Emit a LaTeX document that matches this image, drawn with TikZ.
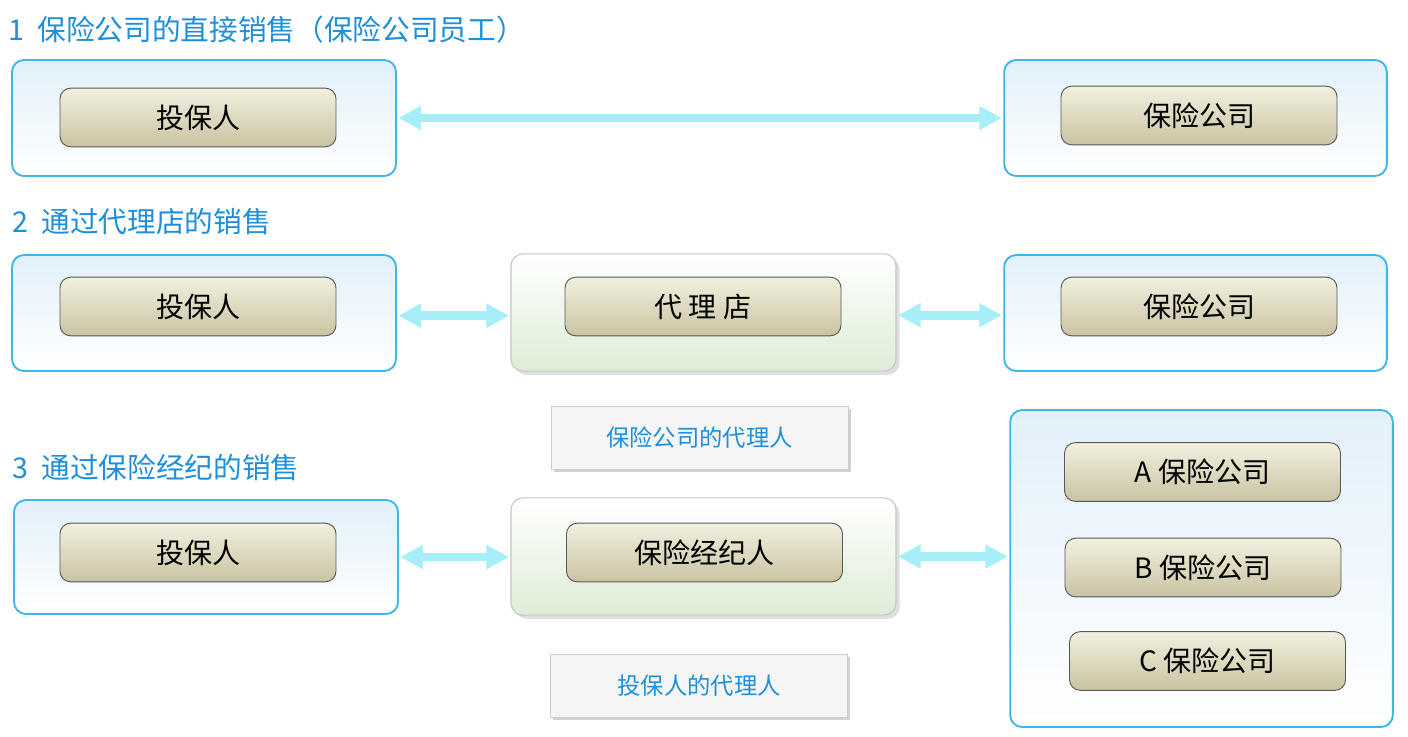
\documentclass[tikz,border=0pt]{standalone}
\usepackage{fontspec}
\setmainfont{Noto Sans CJK SC}
\usetikzlibrary{arrows.meta,shadows}
\definecolor{tblue}{HTML}{1E8FD8}
\definecolor{obord}{HTML}{3DB6EA}
\definecolor{acol}{HTML}{A6EEF8}
\definecolor{otop}{HTML}{E2F0FA}
\definecolor{mbot}{HTML}{DDEDD6}
\definecolor{itop}{HTML}{F2F0DF}
\definecolor{ibot}{HTML}{C9C3A2}
\begin{document}
\begin{tikzpicture}[x=0.75pt,y=-0.75pt,
 outer/.style={draw=obord,line width=1.4pt,rounded corners=9pt,top color=otop,bottom color=white,minimum width=#1},
 mid/.style={draw=gray!45,line width=0.8pt,rounded corners=9pt,top color=white,bottom color=mbot,drop shadow={opacity=0.25},minimum width=288.75pt,minimum height=88pt},
 inner/.style={draw=gray!70!black,line width=0.7pt,rounded corners=8pt,top color=itop,bottom color=ibot,minimum width=207pt,minimum height=44pt,font=\fontsize{21}{25}\selectfont},
 lab/.style={draw=gray!40,fill=green!5!gray!8,drop shadow={opacity=0.35,shadow xshift=2pt,shadow yshift=-2pt},minimum width=223pt,minimum height=47pt,text=tblue,font=\fontsize{17.5}{20}\selectfont},
 title/.style={anchor=west,text=tblue,font=\fontsize{21.5}{25}\selectfont},
 arr/.style={draw=acol,line width=6.5pt,{Triangle[length=17pt,width=17pt]}-{Triangle[length=17pt,width=17pt]},shorten <=1pt,shorten >=1pt}]
\useasboundingbox[fill=white] (0,0) rectangle (1408,736);
\node[title] (t1) at (4,30) {1\ \ 保险公司的直接销售（保险公司员工）};
\node[title] (t2) at (8,222) {2\ \ 通过代理店的销售};
\node[title] (t3) at (8,468) {3\ \ 通过保险经纪的销售};
% row 1
\node[outer=288pt,minimum height=87pt] (L1o) at (204,118) {};
\node[inner] (L1i) at (198,117.5) {投保人};
\node[outer=287pt,minimum height=87pt] (R1o) at (1195.5,118) {};
\node[inner] (R1i) at (1199,115.5) {保险公司};
\draw[arr] (L1o.east) -- (R1o.west);
% row 2
\node[outer=288pt,minimum height=87pt] (L2o) at (204,313) {};
\node[inner] (L2i) at (198,306.5) {投保人};
\node[mid] (M2o) at (703.5,312.5) {};
\node[inner] (M2i) at (703,306.5) {代\ 理\ 店};
\node[outer=287pt,minimum height=87pt] (R2o) at (1195.5,313) {};
\node[inner] (R2i) at (1199,306.5) {保险公司};
\draw[arr] ([yshift=-2pt]L2o.east) -- ([yshift=-2pt]L2o.east -| M2o.west);
\draw[arr] ([yshift=-2pt]M2o.east) -- ([yshift=-2pt]M2o.east -| R2o.west);
\node[lab] (lab1) at (699.5,438) {保险公司的代理人};
% row 3
\node[outer=288pt,minimum height=85.5pt] (L3o) at (206,557) {};
\node[inner] (L3i) at (198,552.5) {投保人};
\node[mid] (M3o) at (703.5,556.5) {};
\node[inner] (M3i) at (704.5,552.5) {保险经纪人};
\node[outer=287pt,minimum height=237.75pt] (R3o) at (1201.5,568.5) {};
\node[inner] (A) at (1202.5,472) {A 保险公司};
\node[inner] (B) at (1203,567.5) {B 保险公司};
\node[inner] (C) at (1207.5,661) {C 保险公司};
\draw[arr] (L3o.east) -- (L3o.east -| M3o.west);
\draw[arr] (M3o.east) -- (M3o.east -| R3o.west);
\node[lab] (lab2) at (699,686) {投保人的代理人};
\end{tikzpicture}
\end{document}
